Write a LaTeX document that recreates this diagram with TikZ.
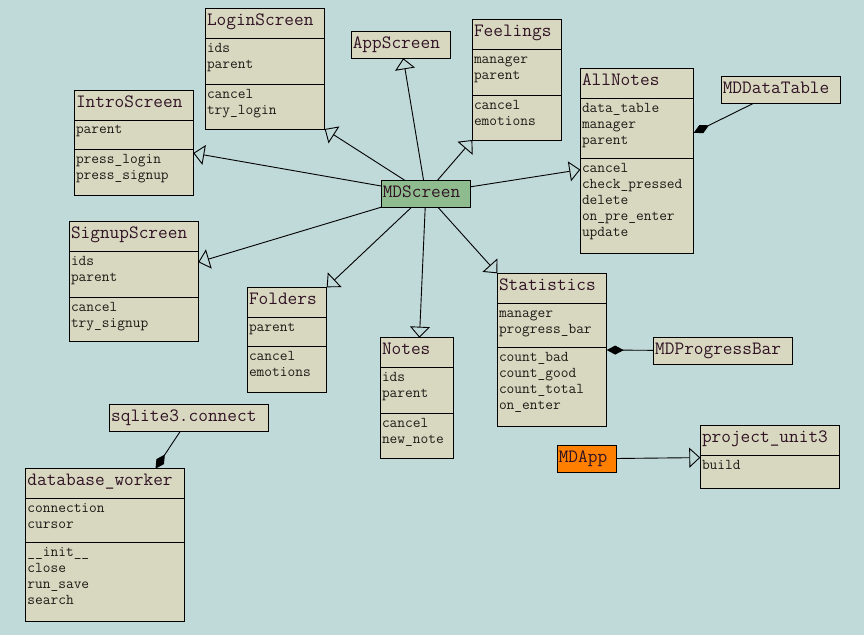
\documentclass[tikz,border=0pt]{standalone}
\usepackage{fontspec}
\usetikzlibrary{arrows.meta,calc}
\definecolor{bgcol}{RGB}{192,217,217}
\definecolor{boxcol}{RGB}{216,216,192}
\definecolor{screencol}{RGB}{143,188,143}
\definecolor{appcol}{RGB}{255,128,0}
\definecolor{titlecol}{RGB}{48,18,36}
\definecolor{membcol}{RGB}{30,26,22}
\newcommand{\titlefont}{\ttfamily\fontsize{18.8}{20}\selectfont}
\newcommand{\membfont}{\ttfamily\fontsize{15}{16}\selectfont}
\tikzset{
% boxes of the class diagram
classbox/.style={draw,line width=1pt,fill=boxcol,anchor=north west,inner sep=0pt,outer sep=0pt},
namebox/.style={draw,line width=1pt,fill=boxcol,anchor=north west,inner xsep=1.5pt,inner ysep=6pt,
  text height=11pt,text depth=4pt,align=left,outer sep=0pt,font=\titlefont,text=titlecol},
classname/.style={anchor=base west,inner sep=0pt,font=\titlefont,text=titlecol},
member/.style={anchor=base west,inner sep=0pt,font=\membfont,text=membcol},
% two kinds of connectors: inheritance and composition
inherit/.style={line width=0.9pt,-{Triangle[open,length=11pt,width=20pt]}},
compose/.style={line width=0.9pt,-{Diamond[length=17pt,width=9pt]}}
}
% class box: name, top left, width, height, title, second rule, attributes, methods
\newcommand{\umlclass}[8]{%
\node[classbox,minimum width=#3pt,minimum height=#4pt] (#1) at #2 {};
\node[classname] (#1-name) at ($(#1.north west)+(1.5,17)$) {#5};
\draw[line width=1pt] ($(#1.north west)+(0,30)$) -- ($(#1.north east)+(0,30)$);
\draw[line width=1pt] ($(#1.north west)+(0,#6)$) -- ($(#1.north east)+(0,#6)$);
\foreach \m [count=\i] in {#7} \node[member] (#1-a\i) at ($(#1.north west)+(1.5,27.7+16*\i)$) {\m};
\foreach \m [count=\i] in {#8} \node[member] (#1-m\i) at ($(#1.north west)+(1.5,#6-2.3+16*\i)$) {\m};
}

\begin{document}
\begin{tikzpicture}[x=1pt,y=-1pt]
\fill[bgcol] (0,0) rectangle (864,635);
\useasboundingbox (0,0) rectangle (864,635);
% The classes
\umlclass{LoginScreen}{(205.3,8.3)}{119.4}{120.7}{LoginScreen}{76}{ids,parent}{cancel,try\_login}
\umlclass{IntroScreen}{(74.3,90)}{119}{105.3}{IntroScreen}{59.3}{parent}{press\_login,press\_signup}
\umlclass{SignupScreen}{(69.3,221.3)}{129}{120.4}{SignupScreen}{76}{ids,parent}{cancel,try\_signup}
\umlclass{Feelings}{(472.3,19.3)}{89}{120.7}{Feelings}{76}{manager,parent}{cancel,emotions}
\umlclass{AllNotes}{(580.3,68.3)}{113.4}{185}{AllNotes}{90.4}{data\_table,manager,parent}{cancel,check\_pressed,delete,on\_pre\_enter,update}
\umlclass{Folders}{(247.3,287.3)}{79.4}{105}{Folders}{59}{parent}{cancel,emotions}
\umlclass{Notes}{(380.3,337.7)}{73}{120.6}{Notes}{76}{ids,parent}{cancel,new\_note}
\umlclass{Statistics}{(497.3,273.3)}{109.4}{152.7}{Statistics}{74.4}{manager,progress\_bar}{count\_bad,count\_good,count\_total,on\_enter}
\umlclass{dbworker}{(25.7,468.7)}{158.6}{152.6}{database\_worker}{73.6}{connection,cursor}{\_\_init\_\_,close,run\_save,search}
\umlclass{projectunit}{(700.3,425.7)}{139}{62.3}{project\_unit3}{30}{}{build}
% boxes with a name only
\node[namebox,text width=96.4pt] (AppScreen) at (351.3,31.3) {AppScreen};
\node[namebox,text width=116pt] (MDDataTable) at (721.3,76.3) {MDDataTable};
\node[namebox,fill=screencol,text width=86pt] (MDScreen) at (381.3,180.3) {MDScreen};
\node[namebox,text width=156pt] (sqlite) at (109.7,404.3) {sqlite3.connect};
\node[namebox,text width=135.6pt] (MDProgressBar) at (653.7,337.3) {MDProgressBar};
\node[namebox,fill=appcol,text width=56.4pt] (MDApp) at (557.3,445.3) {MDApp};
% inheritance
\draw[inherit] (MDScreen) -- (LoginScreen.south east);
\draw[inherit] (MDScreen) -- (AppScreen);
\draw[inherit] (MDScreen) -- (Feelings.south west);
\draw[inherit] (MDScreen) -- (IntroScreen);
\draw[inherit] (MDScreen) -- (AllNotes);
\draw[inherit] (MDScreen) -- (SignupScreen);
\draw[inherit] (MDScreen) -- (Folders.north east);
\draw[inherit] (MDScreen) -- (Notes);
\draw[inherit] (MDScreen) -- (Statistics.north west);
\draw[inherit] (MDApp) -- (projectunit);
% composition
\draw[compose] (MDDataTable) -- (AllNotes);
\draw[compose] (MDProgressBar) -- (Statistics);
\draw[compose] (sqlite) -- (dbworker);
\end{tikzpicture}
\end{document}
